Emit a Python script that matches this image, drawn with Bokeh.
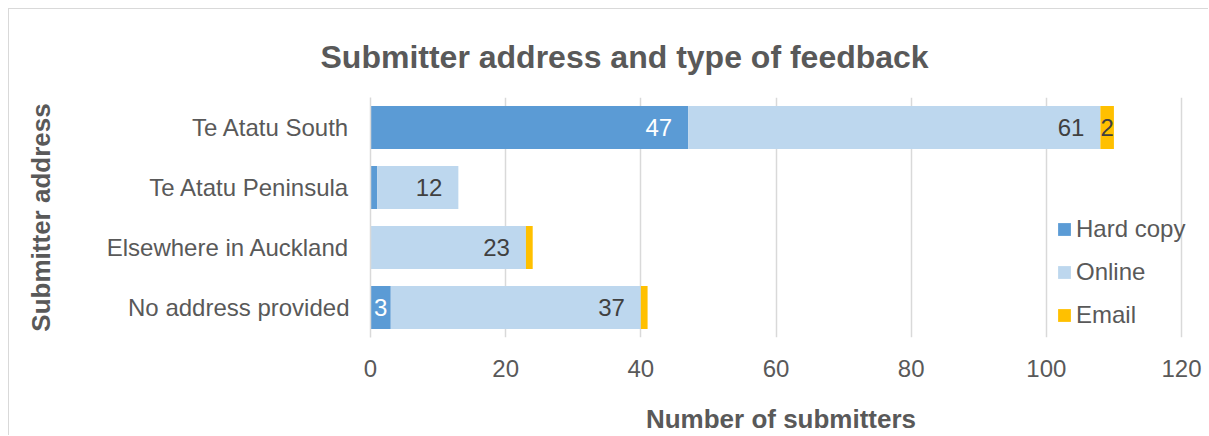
from bokeh.plotting import figure
from bokeh.models import ColumnDataSource, FixedTicker, Legend
from bokeh.core.properties import value
from bokeh.embed import file_html
from bokeh.resources import INLINE

categories = ["Te Atatu South", "Te Atatu Peninsula", "Elsewhere in Auckland", "No address provided"]
hard_copy = [47, 1, 0, 3]
online = [61, 12, 23, 37]
email = [2, 0, 1, 1]
series_names = ["Hard copy", "Online", "Email"]
x_ticks = [0, 20, 40, 60, 80, 100, 120]

colors = ["#5B9BD5", "#BDD7EE", "#FFC000"]
label_colors = ["#FFFFFF", "#404040", "#404040"]
FONT = "Liberation Sans"
GREY = "#595959"

W, H = 1200, 427
BL, BR, BT, BB = 361, 18, 88, 99
frame_w = W - BL - BR
axis_w = 811  # pixels that span 0..120
x_end = 120 * frame_w / axis_w  # a little room on the right for the legend text

source = ColumnDataSource(dict(cat=categories, hard=hard_copy, online=online, email=email))

p = figure(width=W, height=H, y_range=list(reversed(categories)), x_range=(0, x_end),
           output_backend="svg", toolbar_location=None,
           min_border_left=BL, min_border_right=BR, min_border_top=BT, min_border_bottom=BB,
           styles={"margin-left": "8px", "margin-top": "8px",
                   "border-left": "1px solid #D9D9D9", "border-top": "1px solid #D9D9D9"})
p.outline_line_color = None

renderers = p.hbar_stack(["hard", "online", "email"], y="cat", height=0.72, color=colors,
                         line_color=None, source=source)

# data labels
lx, ly, lt, lc, la, lo = [], [], [], [], [], []
cum = [0] * len(categories)
for series, col in zip([hard_copy, online, email], label_colors):
    for i, v in enumerate(series):
        start = cum[i]
        end = start + v
        if v >= 2:
            if v < 5:
                lx.append((start + end) / 2); la.append("center"); lo.append(0)
            else:
                lx.append(end); la.append("right"); lo.append(-16)
            ly.append(categories[i]); lt.append(str(v)); lc.append(col)
        cum[i] = end
lsrc = ColumnDataSource(dict(x=lx, y=ly, text=lt, color=lc, align=la, off=lo))
p.text(x="x", y="y", text="text", source=lsrc, text_color="color", text_align="align",
       x_offset="off", text_baseline="middle", text_font=value(FONT), text_font_size="24px")

legend = Legend(items=[(n, [r]) for n, r in zip(series_names, renderers)], location=(686, 8))
legend.background_fill_alpha = 0
legend.border_line_color = None
legend.label_text_font = FONT
legend.label_text_font_size = "24px"
legend.label_text_color = GREY
legend.glyph_width = 16
legend.glyph_height = 16
legend.padding = 0
legend.margin = 0
legend.spacing = 15
legend.label_standoff = 4
p.add_layout(legend, "center")

p.title.text = "Submitter address and type of feedback"
p.title.text_font = FONT
p.title.text_font_size = "32px"
p.title.text_font_style = "bold"
p.title.text_color = GREY
p.title.align = "left"
p.title.offset = -50
p.title.standoff = 46

p.xaxis.ticker = FixedTicker(ticks=x_ticks)
p.xaxis.axis_line_color = None
p.xaxis.major_tick_line_color = None
p.xaxis.minor_tick_line_color = None
p.xaxis.major_label_standoff = 16
p.xaxis.major_label_text_font = FONT
p.xaxis.major_label_text_font_size = "24px"
p.xaxis.major_label_text_color = GREY
p.xaxis.axis_label = "Number of submitters"
p.xaxis.axis_label_text_font = FONT
p.xaxis.axis_label_text_font_size = "26px"
p.xaxis.axis_label_text_font_style = "bold"
p.xaxis.axis_label_text_color = GREY
p.xaxis.axis_label_standoff = 24

p.yaxis.axis_line_color = "#D9D9D9"
p.yaxis.axis_line_width = 1.5
p.yaxis.major_tick_line_color = None
p.yaxis.minor_tick_line_color = None
p.yaxis.major_label_standoff = 15
p.yaxis.major_label_text_font = FONT
p.yaxis.major_label_text_font_size = "24px"
p.yaxis.major_label_text_color = GREY
p.yaxis.axis_label = "Submitter address"
p.yaxis.axis_label_text_font = FONT
p.yaxis.axis_label_text_font_size = "26px"
p.yaxis.axis_label_text_font_style = "bold"
p.yaxis.axis_label_text_color = GREY
p.yaxis.axis_label_standoff = 48

p.xgrid.grid_line_color = "#D9D9D9"
p.xgrid.grid_line_width = 1.5
p.ygrid.grid_line_color = None

open("out.html", "w").write(file_html(p, INLINE))
